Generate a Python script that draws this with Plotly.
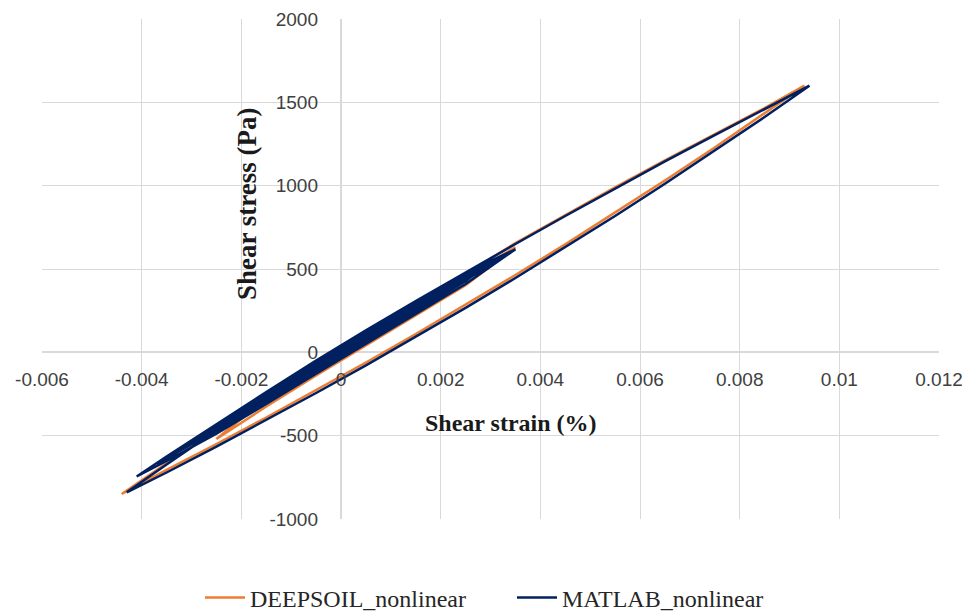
import plotly.graph_objects as go

# DEEPSOIL_nonlinear : shear strain (%) / shear stress (Pa)
deepsoil_strain = [0, 0.001, 0.002, 0.003, 0.0035,
                   0.0025, 0.0015, 0.0005, -0.0005, -0.0015, -0.0025,
                   -0.0015, -0.0005, 0.0005, 0.0015, 0.0025, 0.0035, 0.0045, 0.0055, 0.0065, 0.0075, 0.0085, 0.0093,
                   0.0085, 0.0075, 0.0065, 0.0055, 0.0045, 0.0035, 0.0025, 0.0015, 0.0005, -0.0005, -0.0015, -0.0025, -0.0035, -0.0044,
                   -0.0035, -0.0025, -0.0015, -0.0005, 0.0005, 0.0012]
deepsoil_stress = [0, 190, 370, 540, 630,
                   402, 222, 42, -138, -325, -520,
                   -275, -80, 105, 285, 468, 656, 824, 990, 1152, 1310, 1465, 1600,
                   1433, 1229, 1031, 837, 648, 464, 285, 110, -61, -228, -391, -550, -705, -850,
                   -665, -468, -272, -80, 108, 235]

# MATLAB_nonlinear
matlab_strain = [0, 0.0005, 0.0015,
                 0.0005, -0.0005, -0.0015,
                 -0.0005, 0.0005, 0.0015, 0.0025,
                 0.0015, 0.0005, -0.0005, -0.0015, -0.0025,
                 -0.0015, -0.0005, 0.0005, 0.0015, 0.0025, 0.0030,
                 0.0025, 0.0015, 0.0005, -0.0005, -0.0015, -0.0025, -0.0032,
                 -0.0025, -0.0015, -0.0005, 0.0005, 0.0015, 0.0025, 0.0035,
                 0.0025, 0.0015, 0.0005, -0.0005, -0.0015, -0.0025, -0.0036,
                 -0.0025, -0.0015, -0.0005, 0.0005, 0.0015, 0.0025, 0.0033,
                 0.0025, 0.0015, 0.0005, -0.0005, -0.0015, -0.0025, -0.0033,
                 -0.0025, -0.0015, -0.0005, 0.0005, 0.0015, 0.0025, 0.0034,
                 0.0025, 0.0015, 0.0005, -0.0005, -0.0015, -0.0025, -0.0037,
                 -0.0025, -0.0015, -0.0005, 0.0005, 0.0015, 0.0025, 0.0035,
                 0.0025, 0.0015, 0.0005, -0.0005, -0.0015, -0.0025, -0.0035, -0.0041,
                 -0.0035, -0.0025, -0.0015, -0.0005, 0.0005, 0.0015, 0.0025, 0.0035, 0.0045, 0.0055, 0.0065, 0.0075, 0.0085, 0.0094,
                 0.0085, 0.0075, 0.0065, 0.0055, 0.0045, 0.0035, 0.0025, 0.0015, 0.0005, -0.0005, -0.0015, -0.0025, -0.0035, -0.0043,
                 -0.0035, -0.0025, -0.0015, -0.0005, 0.0005, 0.0010]
matlab_stress = [0, 105, 273,
                 85, -100, -269,
                 -66, 118, 292, 449,
                 250, 71, -110, -292, -455,
                 -243, -55, 127, 301, 470, 540,
                 428, 245, 67, -114, -297, -477, -580,
                 -438, -242, -53, 130, 305, 478, 618,
                 440, 258, 80, -100, -283, -463, -655,
                 -447, -257, -70, 112, 287, 460, 590,
                 445, 268, 92, -89, -274, -455, -600,
                 -440, -249, -60, 122, 296, 467, 605,
                 432, 251, 75, -106, -289, -469, -668,
                 -445, -245, -57, 125, 300, 472, 618,
                 410, 230, 52, -128, -310, -488, -652, -745,
                 -625, -430, -238, -50, 132, 307, 480, 650, 818, 984, 1146, 1303, 1458, 1600,
                 1412, 1209, 1011, 818, 630, 446, 267, 93, -78, -244, -407, -566, -721, -840,
                 -673, -469, -271, -77, 112, 205]

x_ticks = [-0.006, -0.004, -0.002, 0, 0.002, 0.004, 0.006, 0.008, 0.01, 0.012]
x_tick_text = ["-0.006", "-0.004", "-0.002", "0", "0.002", "0.004", "0.006", "0.008", "0.01", "0.012"]
y_ticks = [-1000, -500, 0, 500, 1000, 1500, 2000]
y_tick_text = ["-1000", "-500", "0", "500", "1000", "1500", "2000"]

fig = go.Figure()
fig.add_trace(go.Scatter(x=deepsoil_strain, y=deepsoil_stress, mode="lines",
                         name="DEEPSOIL_nonlinear",
                         line=dict(color="#ED7D31", width=2.5)))
fig.add_trace(go.Scatter(x=matlab_strain, y=matlab_stress, mode="lines",
                         name="MATLAB_nonlinear",
                         line=dict(color="#002060", width=2.5)))

tick_font = dict(family="Liberation Sans, Arial, sans-serif", size=19, color="#404040")
serif = "Liberation Serif, Times New Roman, serif"
grid = "#d9d9d9"

fig.update_layout(
    width=962, height=607,
    margin=dict(l=34, r=31, t=11, b=96),
    paper_bgcolor="white", plot_bgcolor="white",
    showlegend=True,
    legend=dict(orientation="h", xref="container", yref="container",
                x=0.5239, xanchor="center", y=0.028, yanchor="middle",
                font=dict(family=serif, size=24, color="#262626"),
                entrywidth=257, entrywidthmode="pixels", itemwidth=40),
    xaxis=dict(range=[-0.006, 0.012], tickvals=x_ticks, ticktext=x_tick_text,
               showgrid=True, gridcolor=grid, gridwidth=1,
               zeroline=True, zerolinecolor=grid, zerolinewidth=1.5,
               showline=False, ticks="", tickfont=tick_font, automargin=False,
               ticklabeloverflow="allow",
               anchor="free", position=1/3, ticklabelstandoff=14),
    yaxis=dict(range=[-1000, 2000], tickvals=y_ticks, ticktext=y_tick_text,
               showgrid=True, gridcolor=grid, gridwidth=1,
               zeroline=True, zerolinecolor=grid, zerolinewidth=1.5,
               showline=False, ticks="", tickfont=tick_font, automargin=False,
               ticklabeloverflow="allow",
               anchor="free", position=1/3, ticklabelstandoff=23),
    annotations=[
        dict(text="<b>Shear strain (%)</b>", xref="paper", yref="paper",
             x=(511 - 42) / 897, y=(519 - 423) / 500, xanchor="center", yanchor="middle",
             showarrow=False, font=dict(family=serif, size=24, color="#1a1a1a")),
        dict(text="<b>Shear stress (Pa)</b>", xref="paper", yref="paper",
             x=(247 - 42) / 897, y=(519 - 204) / 500, xanchor="center", yanchor="middle",
             showarrow=False, textangle=-90,
             font=dict(family=serif, size=27, color="#1a1a1a")),
    ],
)

fig.write_html("out.html")
